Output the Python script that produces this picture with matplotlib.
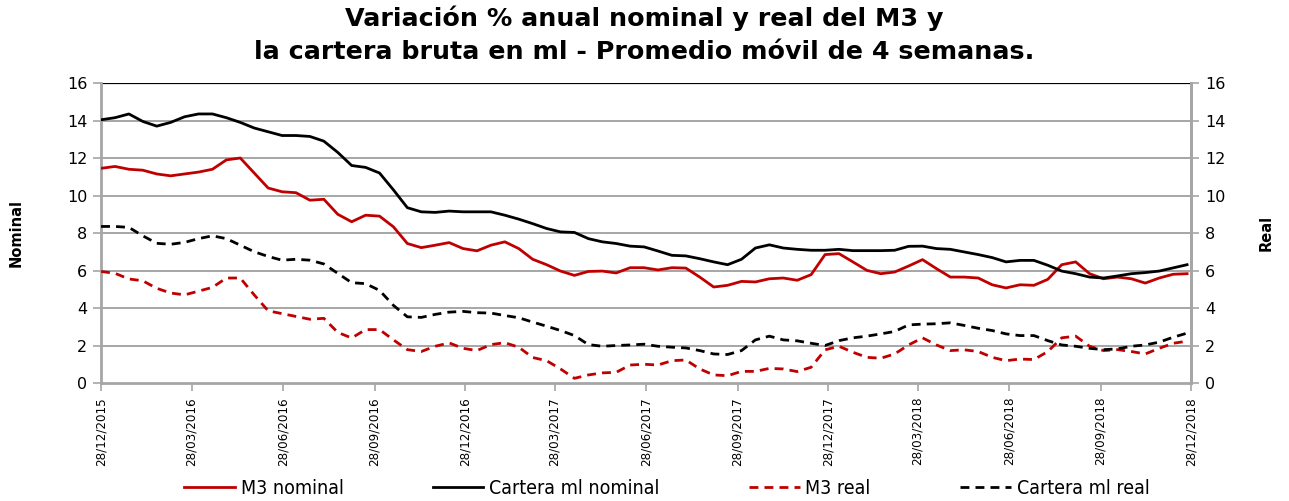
import matplotlib
matplotlib.use("Agg")
import matplotlib.pyplot as plt
import pandas as pd

# Biweekly readings (every 2 weeks starting 28/12/2015)
m3_nominal = [11.45, 11.55, 11.4, 11.35, 11.15, 11.05, 11.15, 11.25, 11.4, 11.9,
              12.0, 11.2, 10.4, 10.2, 10.15, 9.75, 9.8, 9.0, 8.6, 8.95,
              8.9, 8.33, 7.44, 7.22, 7.35, 7.49, 7.17, 7.05, 7.35, 7.53,
              7.17, 6.6, 6.31, 5.97, 5.74, 5.95, 5.97, 5.87, 6.15,
              6.15, 6.03, 6.15, 6.13, 5.65, 5.12, 5.21, 5.42, 5.39, 5.56,
              5.6, 5.48, 5.78, 6.85, 6.9, 6.46, 6.01, 5.83, 5.92, 6.24,
              6.58, 6.1, 5.65, 5.65, 5.6, 5.24, 5.07, 5.24, 5.21, 5.53,
              6.31, 6.46, 5.83, 5.56, 5.65, 5.56, 5.33, 5.6, 5.8, 5.83]
cartera_nominal = [14.04, 14.15, 14.35, 13.95, 13.7, 13.9, 14.2, 14.35, 14.35, 14.15,
                   13.9, 13.6, 13.4, 13.2, 13.2, 13.15, 12.9, 12.3, 11.6, 11.5,
                   11.2, 10.3, 9.35, 9.13, 9.1, 9.17, 9.13, 9.13, 9.13, 8.95,
                   8.74, 8.5, 8.24, 8.06, 8.03, 7.7, 7.53, 7.44, 7.3,
                   7.26, 7.04, 6.81, 6.78, 6.63, 6.46, 6.31, 6.6, 7.2, 7.37,
                   7.2, 7.13, 7.08, 7.08, 7.13, 7.06, 7.06, 7.06, 7.08, 7.29,
                   7.3, 7.17, 7.13, 6.99, 6.85, 6.69, 6.46, 6.54, 6.54, 6.28,
                   5.97, 5.83, 5.65, 5.6, 5.71, 5.83, 5.89, 5.97, 6.14, 6.31]
m3_real = [5.95, 5.85, 5.55, 5.45, 5.05, 4.8, 4.7, 4.9, 5.1, 5.6,
           5.6, 4.7, 3.85, 3.7, 3.55, 3.4, 3.45, 2.7, 2.4, 2.85,
           2.85, 2.3, 1.78, 1.68, 1.96, 2.14, 1.85, 1.73, 2.05, 2.15,
           1.91, 1.36, 1.19, 0.75, 0.25, 0.43, 0.54, 0.57, 0.96,
           1.0, 0.96, 1.19, 1.23, 0.75, 0.43, 0.39, 0.62, 0.62, 0.78,
           0.75, 0.61, 0.84, 1.77, 1.96, 1.64, 1.37, 1.32, 1.55, 2.03,
           2.41, 2.03, 1.73, 1.77, 1.68, 1.37, 1.19, 1.28, 1.25, 1.68,
           2.41, 2.5, 1.96, 1.73, 1.78, 1.68, 1.55, 1.85, 2.12, 2.23]
cartera_real = [8.35, 8.35, 8.3, 7.85, 7.45, 7.4, 7.5, 7.7, 7.85, 7.7,
                7.35, 7.0, 6.75, 6.55, 6.6, 6.55, 6.35, 5.85, 5.35, 5.3,
                4.94, 4.14, 3.53, 3.5, 3.66, 3.78, 3.82, 3.75, 3.73, 3.6,
                3.48, 3.25, 3.03, 2.8, 2.53, 2.05, 1.96, 2.0, 2.03,
                2.07, 1.96, 1.91, 1.87, 1.73, 1.55, 1.52, 1.73, 2.3, 2.5,
                2.3, 2.25, 2.12, 2.0, 2.26, 2.41, 2.5, 2.62, 2.75, 3.1,
                3.14, 3.16, 3.21, 3.07, 2.92, 2.8, 2.62, 2.53, 2.53, 2.26,
                2.03, 1.96, 1.85, 1.78, 1.82, 1.96, 2.03, 2.18, 2.44, 2.66]

dates = pd.date_range("2015-12-28", periods=len(m3_nominal), freq="14D")
tick_dates = pd.to_datetime(["2015-12-28", "2016-03-28", "2016-06-28", "2016-09-28",
                             "2016-12-28", "2017-03-28", "2017-06-28", "2017-09-28",
                             "2017-12-28", "2018-03-28", "2018-06-28", "2018-09-28",
                             "2018-12-28"])
tick_labels = [d.strftime("%d/%m/%Y") for d in tick_dates]

title_1 = "Variación % anual nominal y real del M3 y"
title_2 = "la cartera bruta en ml - Promedio móvil de 4 semanas."
red = "#C00000"
grid_c = "#A6A6A6"

fig = plt.figure(figsize=(12.89, 5.01), dpi=100)
ax = fig.add_axes([0.0784, 0.2355, 0.8456, 0.5988])
lw = 2.0
ax.plot(dates, m3_nominal, color=red, lw=lw, label="M3 nominal", zorder=4)
ax.plot(dates, cartera_nominal, color="black", lw=lw, label="Cartera ml nominal", zorder=4)
ax.plot(dates, m3_real, color=red, lw=lw, dashes=(3.2, 2.2), label="M3 real", zorder=4)
ax.plot(dates, cartera_real, color="black", lw=lw, dashes=(3.2, 2.2), label="Cartera ml real", zorder=4)

ax.set_xlim(tick_dates[0], tick_dates[-1])
ax.set_ylim(0, 16)
ax.set_yticks(range(0, 17, 2))
for v in range(2, 16, 2):
    ax.axhline(v, color=grid_c, lw=1.4, zorder=1)
ax.axhline(16, color="black", lw=1.6, zorder=2)
ax.set_xticks(tick_dates)
ax.set_xticklabels(tick_labels, rotation=90, fontsize=9.5, fontstretch="condensed")
ax.tick_params(axis="y", labelsize=11.5, length=6, width=1.2, color=grid_c, pad=4)
ax.tick_params(axis="x", length=6, width=1.2, color=grid_c, pad=4)
ax.spines["top"].set_visible(False)
for s in ["left", "bottom", "right"]:
    ax.spines[s].set_color(grid_c)
    ax.spines[s].set_linewidth(2)
ax.set_ylabel("Nominal", fontsize=10.5, fontweight="bold", labelpad=31)

ax2 = ax.twinx()
ax2.set_ylim(0, 16)
ax2.set_yticks(range(0, 17, 2))
ax2.tick_params(axis="y", labelsize=11.5, length=6, width=1.2, color=grid_c, pad=4)
for s in ["top", "left", "bottom"]:
    ax2.spines[s].set_visible(False)
ax2.spines["right"].set_color(grid_c)
ax2.spines["right"].set_linewidth(2)
ax2.set_ylabel("Real", fontsize=10.5, fontweight="bold", labelpad=24)

fig.text(0.5, 1 - 18 / 501, title_1, fontsize=18.3, fontweight="bold", ha="center", va="center")
fig.text(0.5, 1 - 52 / 501, title_2, fontsize=18.3, fontweight="bold", ha="center", va="center")

leg = ax.legend(loc="center", bbox_to_anchor=(0.519, -0.352), ncol=4, frameon=False,
                prop={"size": 14, "stretch": "condensed"}, handlelength=2.6,
                columnspacing=4.6, handletextpad=0.3)

fig.savefig("out.png", dpi=100)
